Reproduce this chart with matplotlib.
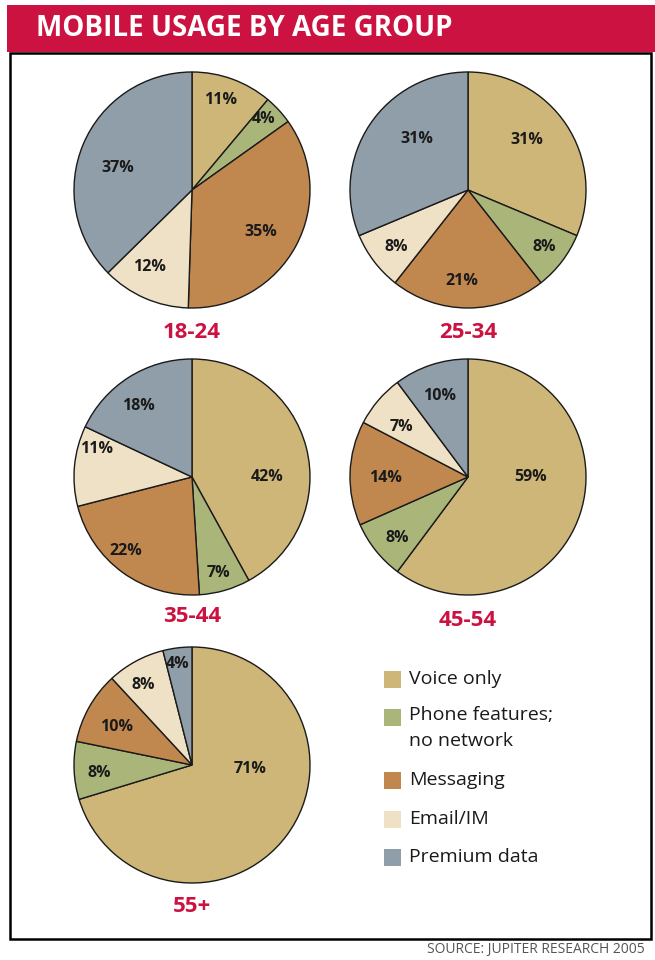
import matplotlib.pyplot as plt
from matplotlib.patches import Rectangle

W, H = 655, 960

categories = ['Voice only', 'Phone features;\nno network', 'Messaging', 'Email/IM', 'Premium data']
colors = ['#CDB677', '#AAB57A', '#C0874E', '#EFE1C5', '#8F9EA8']

groups = ['18-24', '25-34', '35-44', '45-54', '55+']
share_18_24 = [11, 4, 35, 12, 37]
share_25_34 = [31, 8, 21, 8, 31]
share_35_44 = [42, 7, 22, 11, 18]
share_45_54 = [59, 8, 14, 7, 10]
share_55_up = [71, 8, 10, 8, 4]
shares = [share_18_24, share_25_34, share_35_44, share_45_54, share_55_up]

# layout: pie centres (px), label offsets in radius units (hand placed like the original)
centres = [(192, 190), (468, 190), (192, 477), (468, 477), (192, 765)]
R = 118
label_pos = [
    [(0.24, 0.76), (0.61, 0.60), (0.58, -0.36), (-0.36, -0.65), (-0.63, 0.19)],
    [(0.50, 0.42), (0.65, -0.48), (-0.05, -0.77), (-0.61, -0.48), (-0.43, 0.43)],
    [(0.64, 0.0), (0.22, -0.81), (-0.56, -0.63), (-0.81, 0.24), (-0.45, 0.60)],
    [(0.53, 0.0), (-0.60, -0.52), (-0.70, -0.01), (-0.56, 0.42), (-0.24, 0.69)],
    [(0.49, -0.03), (-0.79, -0.07), (-0.64, 0.32), (-0.41, 0.68), (-0.12, 0.86)],
]
group_label_y = [333, 333, 617, 620, 906]

plt.rcParams['font.family'] = ['Open Sans', 'DejaVu Sans']
RED = '#CC1240'

fig = plt.figure(figsize=(W / 100, H / 100), dpi=100)
fig.patch.set_facecolor('white')


def fx(x):
    return x / W


def fy(y):
    return 1 - y / H


# header band and border box
fig.patches.append(Rectangle((fx(7), fy(52)), fx(648), 47 / H, transform=fig.transFigure,
                             facecolor=RED, edgecolor='none'))
fig.text(fx(36), fy(29), 'MOBILE USAGE BY AGE GROUP', color='white', fontsize=20,
         fontweight='bold', va='center', ha='left')
fig.patches.append(Rectangle((fx(10), fy(939)), fx(641), 886 / H, transform=fig.transFigure,
                             facecolor='none', edgecolor='black', linewidth=1.8))

for i, (vals, (cx, cy)) in enumerate(zip(shares, centres)):
    ax = fig.add_axes([fx(cx - R), fy(cy + R), 2 * R / W, 2 * R / H])
    ax.pie(vals, colors=colors, startangle=90, counterclock=False, radius=1,
           wedgeprops=dict(edgecolor='#1a1a1a', linewidth=1.0))
    ax.set_xlim(-1, 1)
    ax.set_ylim(-1, 1)
    ax.set_aspect('auto')
    ax.axis('off')
    for v, (lx, ly) in zip(vals, label_pos[i]):
        ax.text(lx, ly, f'{v}%', ha='center', va='center', fontsize=11.5,
                fontweight='bold', color='#1a1a1a')
    fig.text(fx(cx), fy(group_label_y[i]), groups[i], ha='center', va='center',
             fontsize=16, fontweight='bold', color=RED)

# legend
leg_y = [679, 717, 780, 819, 857]
for cat, col, y in zip(categories, colors, leg_y):
    fig.patches.append(Rectangle((fx(384), fy(y + 8.5)), 17 / W, 17 / H,
                                 transform=fig.transFigure, facecolor=col, edgecolor='none'))
    if '\n' in cat:
        fig.text(fx(409), fy(y - 11), cat, ha='left', va='top', fontsize=14,
                 color='#1a1a1a', linespacing=1.55)
    else:
        fig.text(fx(409), fy(y), cat, ha='left', va='center', fontsize=14,
                 color='#1a1a1a')

fig.text(fx(645), fy(950), 'SOURCE: JUPITER RESEARCH 2005', ha='right', va='center',
         fontsize=10, color='#555555')

fig.savefig('out.png', dpi=100)
